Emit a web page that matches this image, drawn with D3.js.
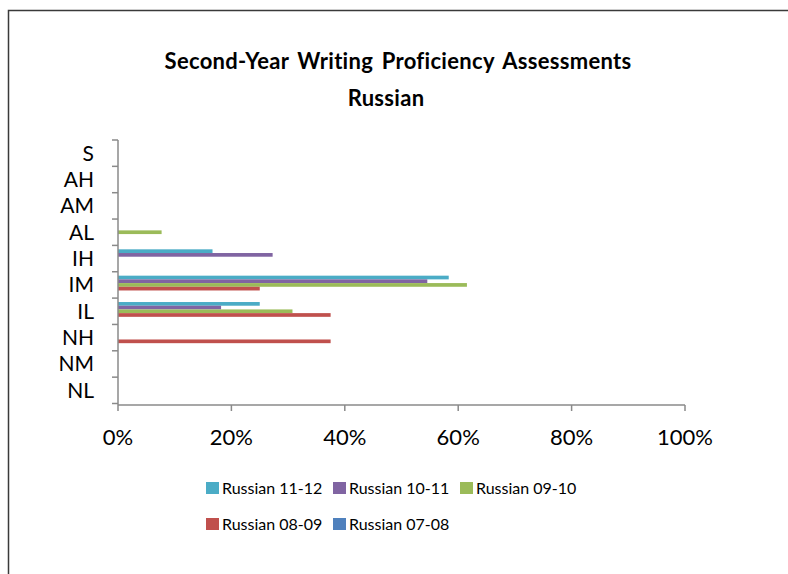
<!DOCTYPE html>
<html>
<head>
<meta charset="utf-8">
<script src="https://cdn.jsdelivr.net/npm/d3@7"></script>
<style>
  html, body { margin: 0; padding: 0; background: #fff; }
  svg { display: block; }
  text { font-family: Lato, "Open Sans", sans-serif; fill: #000; }
</style>
</head>
<body>
<svg id="chart" width="788" height="574"></svg>
<script>
// ---- data ----
const categories = ["NL", "NM", "NH", "IL", "IM", "IH", "AL", "AM", "AH", "S"];
const seriesNames = ["Russian 11-12", "Russian 10-11", "Russian 09-10", "Russian 08-09", "Russian 07-08"];
const seriesColors = ["#4BACC6", "#8064A2", "#9BBB59", "#C0504D", "#4F81BD"];
const russian1112 = [0, 0, 0, 25.00, 58.33, 16.67, 0, 0, 0, 0];
const russian1011 = [0, 0, 0, 18.18, 54.55, 27.27, 0, 0, 0, 0];
const russian0910 = [0, 0, 0, 30.77, 61.54, 0, 7.69, 0, 0, 0];
const russian0809 = [0, 0, 37.50, 37.50, 25.00, 0, 0, 0, 0, 0];
const russian0708 = [0, 0, 0, 0, 0, 0, 0, 0, 0, 0];
const seriesValues = [russian1112, russian1011, russian0910, russian0809, russian0708];
const xTicks = [0, 20, 40, 60, 80, 100];
const titleLines = ["Second-Year Writing Proficiency Assessments", "Russian"];

// ---- layout ----
const svg = d3.select("#chart");
const pLeft = 118, pRight = 685, pTop = 140, pBottom = 403.5;

// frame
svg.append("path")
  .attr("d", "M8.5,574 L8.5,10.5 L788,10.5")
  .attr("fill", "none").attr("stroke", "#3a3a3a").attr("stroke-width", 1.5);

// title
svg.append("text").attr("x", 398).attr("y", 69).attr("text-anchor", "middle")
  .attr("font-weight", "bold").attr("font-size", 22)
  .attr("letter-spacing", 0.3).attr("word-spacing", 3).text(titleLines[0]);
svg.append("text").attr("x", 386).attr("y", 106).attr("text-anchor", "middle")
  .attr("font-weight", "bold").attr("font-size", 22)
  .attr("letter-spacing", 0.3).text(titleLines[1]);

// scales
const x = d3.scaleLinear().domain([0, 100]).range([pLeft, pRight]);
const y = d3.scaleBand().domain(categories.slice().reverse()).range([pTop, pBottom]).padding(0);
const ys = d3.scaleBand().domain(seriesNames).range([0, y.bandwidth()]).paddingInner(0).paddingOuter(1.06);

// bars
seriesNames.forEach((name, si) => {
  svg.append("g").selectAll("rect")
    .data(categories.map((c, i) => ({ c, v: seriesValues[si][i] })))
    .join("rect")
    .attr("x", x(0))
    .attr("y", d => y(d.c) + ys(name))
    .attr("width", d => x(d.v) - x(0))
    .attr("height", ys.bandwidth())
    .attr("fill", seriesColors[si]);
});

// y axis
const axisColor = "#8a8a8a";
svg.append("line").attr("x1", pLeft).attr("x2", pLeft).attr("y1", pTop).attr("y2", pBottom + 1.5)
  .attr("stroke", axisColor).attr("stroke-width", 1.5);
const yTickPos = [pTop].concat(categories.map(c => y(c) + y.bandwidth()));
svg.append("g").selectAll("line").data(yTickPos).join("line")
  .attr("x1", pLeft - 6).attr("x2", pLeft).attr("y1", d => d).attr("y2", d => d)
  .attr("stroke", axisColor).attr("stroke-width", 1.5);
svg.append("g").selectAll("text").data(categories).join("text")
  .attr("x", 94).attr("y", d => y(d) + y.bandwidth() / 2 + 7.5)
  .attr("text-anchor", "end").attr("font-size", 21).text(d => d);

// x axis
svg.append("line").attr("x1", pLeft).attr("x2", pRight).attr("y1", pBottom + 1.5).attr("y2", pBottom + 1.5)
  .attr("stroke", axisColor).attr("stroke-width", 1.5);
svg.append("g").selectAll("line").data(xTicks).join("line")
  .attr("x1", d => x(d)).attr("x2", d => x(d)).attr("y1", pBottom + 1.5).attr("y2", pBottom + 7.5)
  .attr("stroke", axisColor).attr("stroke-width", 1.5);
svg.append("g").selectAll("text").data(xTicks).join("text")
  .attr("x", d => x(d)).attr("y", 445)
  .attr("text-anchor", "middle").attr("font-size", 22).text(d => d + "%");

// legend
const legendPos = [[206, 482], [333, 482], [460, 482], [206, 518], [333, 518]];
seriesNames.forEach((name, i) => {
  const [lx, ly] = legendPos[i];
  svg.append("rect").attr("x", lx).attr("y", ly).attr("width", 13).attr("height", 12)
    .attr("fill", seriesColors[i]);
  svg.append("text").attr("x", lx + 16).attr("y", ly + 11.5).attr("font-size", 16).text(name);
});
</script>
</body>
</html>
